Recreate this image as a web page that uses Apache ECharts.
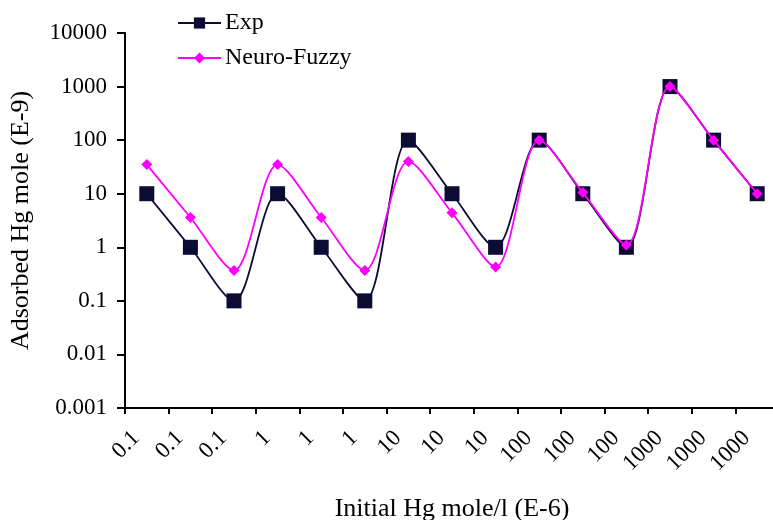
<!DOCTYPE html>
<html><head><meta charset="utf-8">
<script src="https://cdn.jsdelivr.net/npm/echarts@6/dist/echarts.min.js"></script>
<style>html,body{margin:0;padding:0;background:#fff}#c{width:773px;height:520px}</style>
</head><body><div id="c"></div>
<script>
var categories = ['0.1','0.1','0.1','1','1','1','10','10','10','100','100','100','1000','1000','1000'];
var expValues = [10,1,0.1,10,1,0.1,100,10,1,100,10,1,1000,100,10];
var neuroFuzzyValues = [35,3.6,0.37,35,3.6,0.37,40,4.4,0.43,100,10.5,1.1,1000,100,10];
var yTickLabels = ['0.001','0.01','0.1','1','10','100','1000','10000'];

var font = '"Liberation Serif","Times New Roman",serif';
var chart = echarts.init(document.getElementById('c'));
chart.setOption({
  animation: false,
  backgroundColor: '#fff',
  textStyle: {fontFamily: font},
  legend: {
    orient: 'vertical', left: 172, top: 6, itemWidth: 43, itemHeight: 14, itemGap: 11,
    textStyle: {fontFamily: font, fontSize: 24, color: '#000', padding: [0, 0, 0, -1]},
    data: ['Exp', 'Neuro-Fuzzy']
  },
  grid: {left: 125, top: 33, width: 654, height: 375, containLabel: false, outerBoundsMode: 'none'},
  xAxis: {
    type: 'category', data: categories, boundaryGap: true,
    name: 'Initial Hg mole/l (E-6)', nameLocation: 'middle', nameGap: 88,
    nameTextStyle: {fontFamily: font, fontSize: 26, color: '#000'},
    axisLine: {lineStyle: {color: '#000', width: 2}},
    axisTick: {show: true, length: 6, lineStyle: {color: '#000', width: 2}},
    axisLabel: {rotate: 45, interval: 0, fontFamily: font, fontSize: 23, color: '#000',
      margin: 16, padding: [0, 15, 0, 0]},
    splitLine: {show: false}
  },
  yAxis: {
    type: 'log', logBase: 10, min: 0.001, max: 10000,
    name: 'Adsorbed Hg mole (E-9)', nameLocation: 'middle', nameGap: 91, nameRotate: 90,
    nameTextStyle: {fontFamily: font, fontSize: 26, color: '#000'},
    axisLine: {show: true, lineStyle: {color: '#000', width: 2}},
    axisTick: {show: true, length: 8, lineStyle: {color: '#000', width: 2}},
    axisLabel: {fontFamily: font, fontSize: 23, color: '#000', margin: 18,
      formatter: function (v) {
        var i = Math.round(Math.log10(v)) + 3;
        return yTickLabels[i] !== undefined ? yTickLabels[i] : '';
      }},
    splitLine: {show: false}
  },
  series: [
    {
      name: 'Exp', type: 'line', data: expValues, smooth: 0.3,
      symbol: 'rect', symbolSize: 15,
      itemStyle: {color: '#0b0b33'},
      lineStyle: {color: '#0b0b33', width: 1.8}, z: 2
    },
    {
      name: 'Neuro-Fuzzy', type: 'line', data: neuroFuzzyValues, smooth: 0.3,
      symbol: 'diamond', symbolSize: 11,
      itemStyle: {color: '#ff00ff'},
      lineStyle: {color: '#ff00ff', width: 1.8}, z: 3
    }
  ]
});
</script></body></html>
